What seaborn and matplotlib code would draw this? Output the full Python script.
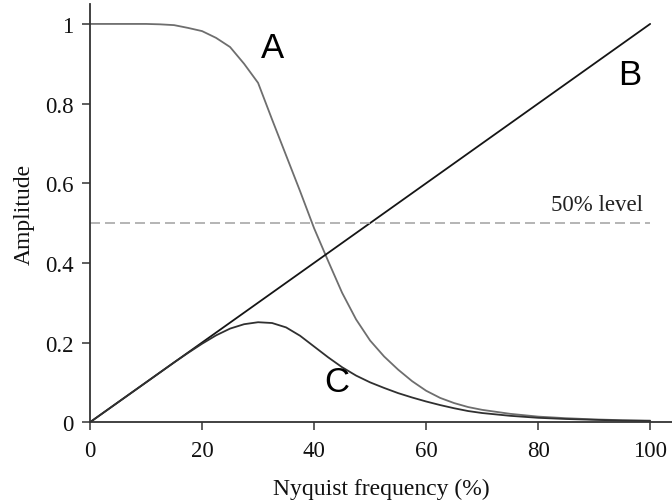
import numpy as np
import pandas as pd
import seaborn as sns
import matplotlib
matplotlib.use("Agg")
import matplotlib.pyplot as plt

freq = [0, 5, 10, 12.5, 15, 17.5, 20, 22.5, 25, 27.5, 30, 32.5, 35, 37.5, 40, 42.5,
        45, 47.5, 50, 52.5, 55, 57.5, 60, 62.5, 65, 67.5, 70, 75, 80, 85, 90, 95, 100]
curve_a = [1.0, 1.0, 1.0, 0.999, 0.997, 0.99, 0.982, 0.965, 0.942, 0.90, 0.852, 0.76,
           0.67, 0.58, 0.487, 0.405, 0.325, 0.258, 0.205, 0.165, 0.132, 0.103, 0.079,
           0.061, 0.048, 0.038, 0.031, 0.021, 0.014, 0.010, 0.007, 0.005, 0.004]
curve_c = [0.0, 0.05, 0.10, 0.125, 0.15, 0.174, 0.197, 0.218, 0.235, 0.246, 0.251,
           0.249, 0.238, 0.217, 0.19, 0.163, 0.138, 0.117, 0.1, 0.086, 0.073, 0.062,
           0.052, 0.043, 0.035, 0.028, 0.023, 0.016, 0.011, 0.008, 0.006, 0.004, 0.003]
line_b_x = [0, 100]
line_b_y = [0.0, 1.0]
level_value = 0.5
x_ticks = [0, 20, 40, 60, 80, 100]
y_ticks = [0, 0.2, 0.4, 0.6, 0.8, 1]
y_ticklabels = ["0", "0.2", "0.4", "0.6", "0.8", "1"]

df = pd.DataFrame({"freq": freq, "A": curve_a, "C": curve_c})
df_b = pd.DataFrame({"freq": line_b_x, "B": line_b_y})

sns.set_style("ticks")
plt.rcParams["font.family"] = ["Liberation Serif", "DejaVu Serif"]

fig = plt.figure(figsize=(6.72, 5.02), dpi=100)
ax = fig.add_axes([0.134, 0.157, 0.866, 0.833])

sns.lineplot(data=df, x="freq", y="A", ax=ax, color="#6e6e6e", lw=1.3)
sns.lineplot(data=df_b, x="freq", y="B", ax=ax, color="#151515", lw=1.3)
sns.lineplot(data=df, x="freq", y="C", ax=ax, color="#303030", lw=1.3)
ax.plot([0, 100], [level_value, level_value], color="#a8a8a8", lw=1.2,
        dashes=(6, 3))

ax.text(98.8, 0.534, "50% level", ha="right", va="baseline", fontsize=16.5,
        color="#222222")
lab_kw = dict(family=["Liberation Sans", "DejaVu Sans"], fontsize=25,
              color="black", ha="center", va="center")
ax.text(32.5, 0.94, "A", **lab_kw)
ax.text(96.3, 0.874, "B", **lab_kw)
ax.text(44.1, 0.102, "C", **lab_kw)

ax.set_xlim(0, 103.9)
ax.set_ylim(0, 1.05)
ax.set_xticks(x_ticks)
ax.set_yticks(y_ticks)
ax.set_yticklabels(y_ticklabels)
ax.tick_params(axis="both", labelsize=16.5, length=6, width=1.1, color="#333333",
               labelcolor="#111111")
ax.tick_params(axis="x", pad=7)
ax.tick_params(axis="y", pad=6)
ax.set_xlabel("Nyquist frequency (%)", fontsize=17, color="#111111", labelpad=12)
ax.set_ylabel("Amplitude", fontsize=17, color="#111111", labelpad=7)
for s in ["top", "right"]:
    ax.spines[s].set_visible(False)
for s in ["left", "bottom"]:
    ax.spines[s].set_color("#333333")
    ax.spines[s].set_linewidth(1.3)

fig.savefig("out.png", dpi=100)
